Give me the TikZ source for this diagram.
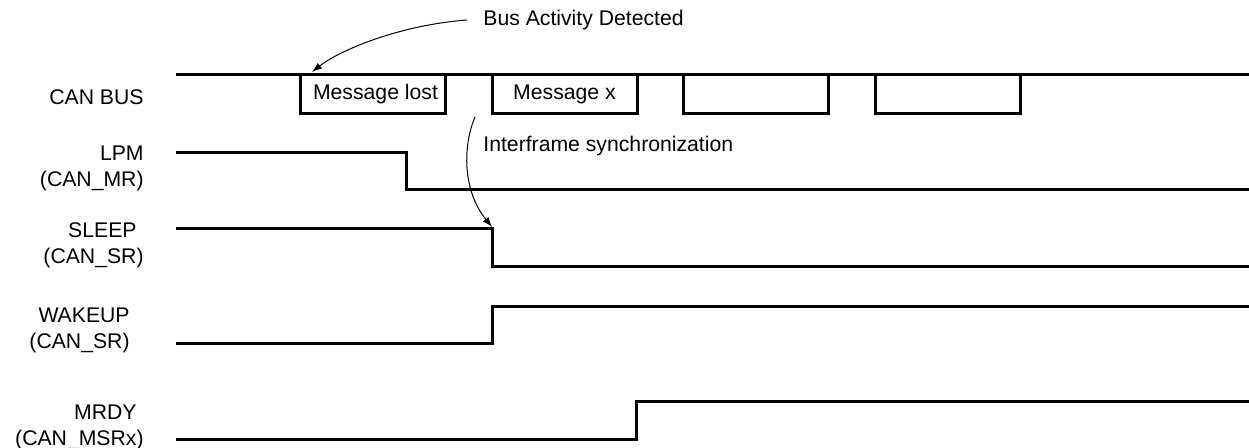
\documentclass[tikz,border=0pt]{standalone}
\usepackage{fontspec}
\setmainfont{Liberation Sans}
\usetikzlibrary{arrows.meta}

\begin{document}
\begin{tikzpicture}[x=0.5pt,y=-0.5pt,>={Latex[length=5pt,width=3.6pt]},
  font=\fontsize{10.6}{13}\selectfont,
  signal/.style={line width=1.5pt},
  frame/.style={draw,line width=1.5pt,minimum width=72.5pt,minimum height=19.5pt,inner sep=0pt},
  sig/.style={align=right,anchor=east,inner sep=0pt},
  note/.style={anchor=west,inner sep=0pt},
  pointer/.style={->,line width=0.5pt}]
  \useasboundingbox (0,0) rectangle (1249,448);

  % signal names
  \node[sig] (canbus) at (144,97) {CAN BUS};
  \node[sig] (lpm) at (144,168) {LPM\\(CAN\_MR)};
  \node[sig] (sleep) at (144,245) {SLEEP\hspace*{3.5pt}\\(CAN\_SR)};
  \node[sig] (wakeup) at (130,330.5) {WAKEUP\\(CAN\_SR)};
  \node[sig] (mrdy) at (144,427.5) {MRDY\hspace*{3.5pt}\\(CAN\_MSRx)};

  % can bus with the frames hanging below it
  \draw[signal] (176,75) -- (1249,75);
  \node[frame] (msglost) at (372.5,94.5) {\hspace*{3pt}Message lost};
  \node[frame] (msgx) at (564.5,94.5) {Message x};
  \node[frame] (frameC) at (756,94.5) {};
  \node[frame] (frameD) at (948,94.5) {};

  % register bits
  \draw[signal] (176,153) -- (406,153) -- (406,190) -- (1249,190);
  \draw[signal] (176,229) -- (492,229) coordinate (sleepfall) -- (492,267) -- (1249,267);
  \draw[signal] (176,344) -- (492,344) -- (492,307) -- (1249,307);
  \draw[signal] (176,440) -- (636,440) -- (636,402) -- (1249,402);

  % annotations
  \coordinate (busdetect) at (312,72);
  \coordinate (syncfrom) at (475,117);
  \node[note] (busnote) at (483,20) {Bus Activity Detected};
  \node[note] (syncnote) at (483,146) {Interframe synchronization};
  \draw[pointer] ([xshift=-8pt]busnote.west) .. controls (400,25) and (340,50) .. (busdetect);
  \draw[pointer] (syncfrom) .. controls (463,145) and (462,190) .. ([yshift=1pt]sleepfall);
\end{tikzpicture}
\end{document}
